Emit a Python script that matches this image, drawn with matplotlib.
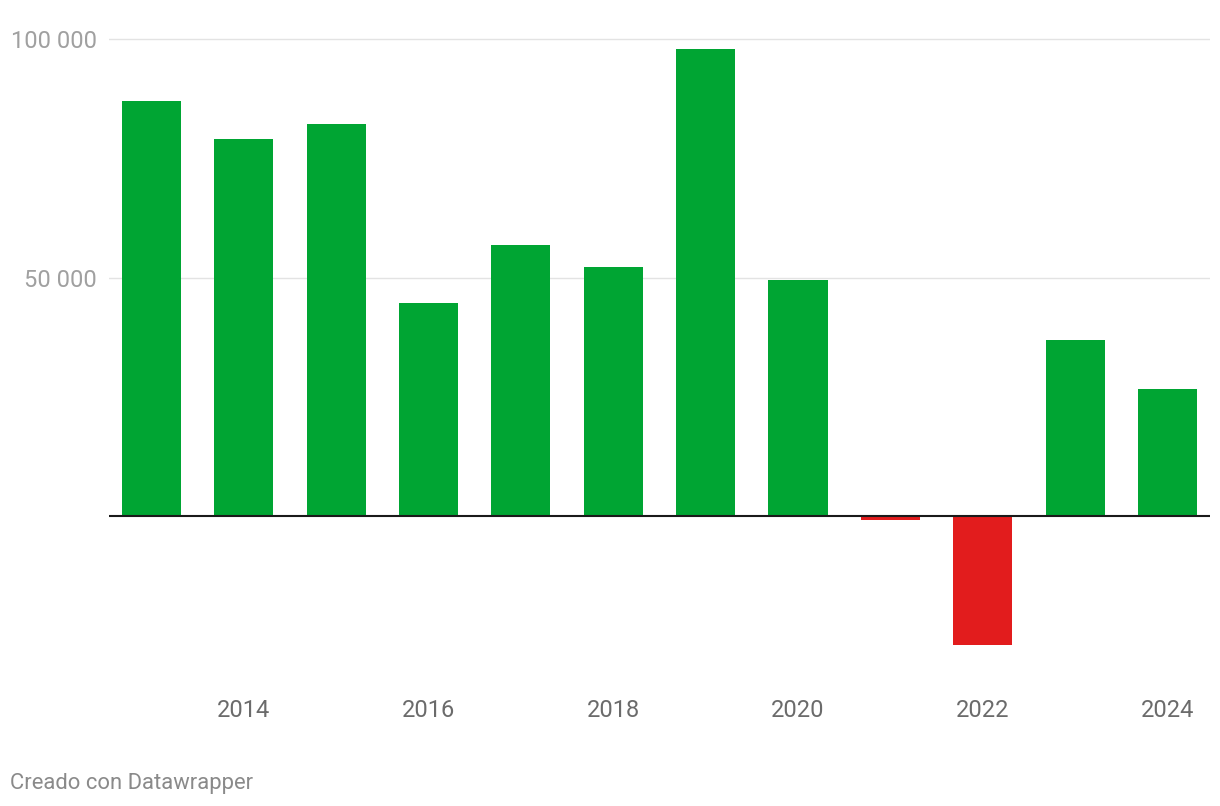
import matplotlib
matplotlib.use("Agg")
import matplotlib.pyplot as plt

years = [2013, 2014, 2015, 2016, 2017, 2018, 2019, 2020, 2021, 2022, 2023, 2024]
values = [87000, 79000, 82200, 44600, 56800, 52200, 97900, 49500, -900, -27100, 36800, 26600]
xtick_years = [2014, 2016, 2018, 2020, 2022, 2024]
ytick_values = [50000, 100000]
ytick_labels = ["50 000", "100 000"]
footer = "Creado con Datawrapper"

GREEN = "#00a533"
RED = "#e21c1d"

plt.rcParams["font.family"] = ["Roboto", "DejaVu Sans"]

fig = plt.figure(figsize=(12.2, 8.06), dpi=100)
ax = fig.add_axes([108.5 / 1220, 1 - 668.6 / 806, (1210 - 108.5) / 1220, (668.6 - 29.5) / 806])

colors = [GREEN if v >= 0 else RED for v in values]
ax.bar(years, values, width=0.64, color=colors, zorder=2)

ax.set_xlim(2013 - 0.465, 2024 + 0.46)
ax.set_ylim(-32000, 102000)

for v in ytick_values:
    ax.axhline(v, color="#e3e3e3", lw=1.0, zorder=1)
ax.axhline(0, color="#1a1a1a", lw=1.5, zorder=3)

ax.set_yticks(ytick_values)
ax.set_yticklabels(ytick_labels, color="#a0a0a0", fontsize=17)
ax.set_xticks(xtick_years)
ax.set_xticklabels([str(y) for y in xtick_years], color="#6b6b6b", fontsize=17)
ax.tick_params(axis="y", length=0, pad=8.5)
ax.tick_params(axis="x", length=0, pad=22)

for s in ax.spines.values():
    s.set_visible(False)

fig.text(10 / 1220, 1 - 783 / 806, footer, color="#8a8a8a", fontsize=15.8, va="center", ha="left")

fig.savefig("out.png", dpi=100, facecolor="white")
